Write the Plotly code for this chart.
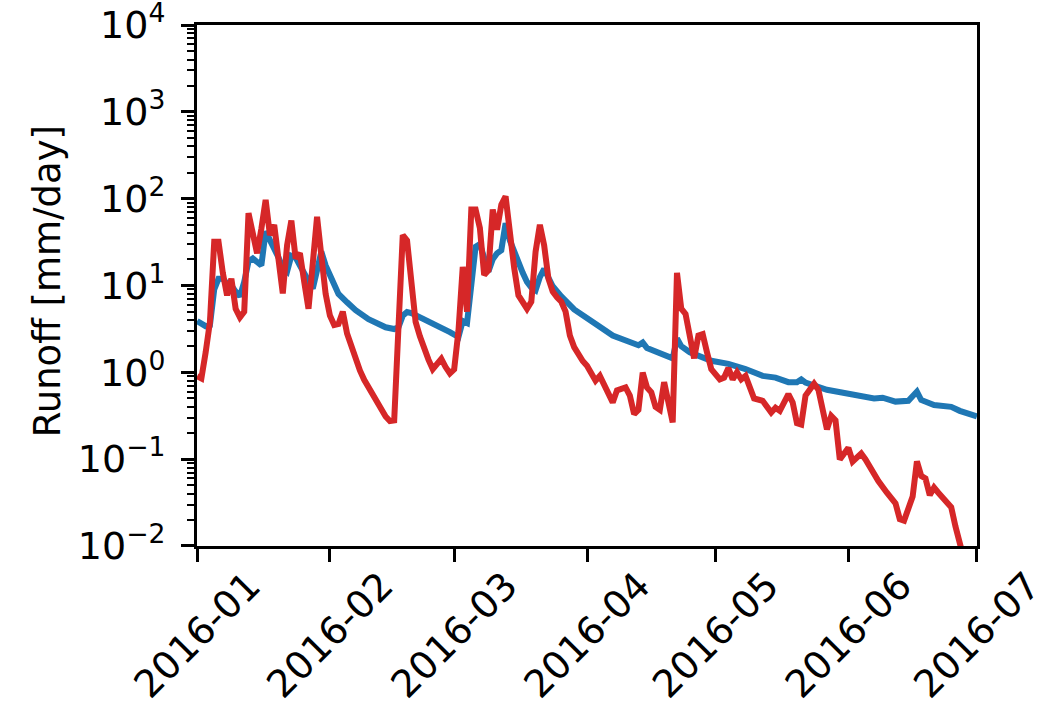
import pandas as pd
import plotly.graph_objects as go

# ---- data (day offset from 2016-01-01, runoff in mm/day) ----
start_date = "2016-01-01"

blue_days = [0, 2, 3, 4, 5, 6, 7, 8, 9, 10, 11, 12, 13, 14, 15, 16, 17, 18, 19, 20,
             21, 22, 23, 24, 25, 26, 27, 28, 29, 30, 31, 32, 33, 35, 37, 40, 42, 44,
             46, 47, 48, 49, 50, 53, 57, 59, 61, 62, 63, 64, 65, 66, 67, 68, 69, 70,
             71, 72, 73, 74, 75, 76, 77, 78, 79, 80, 81, 82, 83, 85, 88, 92, 97, 103,
             104, 105, 110, 111, 112, 113, 115, 120, 124, 128, 132, 135, 138, 140,
             141, 142, 147, 154, 158, 160, 163, 166, 168, 169, 172, 176, 178, 182]
blue_vals = [3.9, 3.4, 3.5, 9.0, 12.0, 12.0, 10.5, 10.0, 8.5, 7.5, 11.0, 19.0, 20.5,
             18.5, 17.0, 42.0, 34.0, 28.0, 21.0, 16.0, 14.5, 22.0, 21.0, 17.0, 14.0,
             11.5, 9.2, 15.0, 24.5, 17.0, 13.0, 10.0, 8.0, 6.4, 5.2, 4.1, 3.6, 3.3,
             3.15, 3.3, 4.5, 4.95, 4.8, 4.1, 3.35, 2.9, 2.55, 3.9, 3.7, 10.0, 28.0,
             30.0, 20.0, 14.5, 20.0, 23.5, 25.5, 52.0, 33.0, 24.0, 19.0, 14.0, 11.0,
             9.5, 8.8, 12.5, 15.5, 12.0, 9.8, 7.5, 5.3, 3.9, 2.65, 2.05, 2.2, 1.9,
             1.5, 1.45, 2.45, 2.0, 1.7, 1.36, 1.25, 1.09, 0.91, 0.87, 0.77, 0.77,
             0.83, 0.76, 0.63, 0.54, 0.5, 0.51, 0.46, 0.47, 0.6, 0.48, 0.42, 0.4,
             0.36, 0.31]

red_days = [0, 1, 2, 3, 4, 5, 6, 7, 8, 9, 10, 11, 12, 13, 14, 15, 16, 17, 18, 19,
            20, 21, 22, 23, 24, 25, 26, 27, 28, 29, 30, 31, 32, 33, 34, 35, 37, 38,
            39, 40, 41, 42, 43, 44, 45, 46, 47, 48, 49, 50, 51, 52, 53, 54, 55, 56,
            57, 58, 59, 60, 61, 62, 63, 64, 65, 66, 67, 68, 69, 70, 71, 72, 73, 74,
            75, 76, 77, 78, 79, 80, 81, 82, 83, 84, 85, 86, 87, 88, 89, 90, 91, 92,
            93, 94, 95, 96, 97, 98, 99, 100, 101, 102, 103, 104, 105, 106, 107, 108,
            109, 110, 111, 112, 113, 114, 115, 116, 117, 118, 119, 120, 122, 123,
            124, 125, 126, 127, 128, 130, 132, 134, 135, 136, 138, 139, 140, 141,
            142, 144, 145, 147, 148, 149, 150, 152, 153, 155, 156, 158, 159, 161,
            163, 164, 165, 167, 168, 169, 170, 171, 172, 173, 174, 176, 177, 178, 179]
red_vals = [0.9, 0.85, 1.7, 3.8, 32.0, 32.0, 14.0, 7.7, 12.0, 5.4, 4.3, 5.0, 68.0,
            38.0, 23.5, 45.0, 97.0, 38.0, 50.0, 20.0, 8.1, 29.0, 56.0, 20.5, 23.5,
            11.0, 5.4, 18.0, 62.0, 22.0, 8.0, 4.5, 3.5, 3.6, 5.0, 2.8, 1.4, 1.05,
            0.82, 0.67, 0.55, 0.46, 0.38, 0.31, 0.275, 0.28, 3.3, 38.0, 33.0, 11.0,
            3.8, 2.6, 1.86, 1.4, 1.09, 1.25, 1.43, 1.15, 0.97, 1.08, 3.0, 16.4, 5.0,
            75.0, 75.0, 46.0, 13.2, 15.0, 75.0, 44.0, 85.0, 106.0, 35.0, 16.0, 7.7,
            6.5, 5.4, 6.5, 24.5, 50.0, 29.0, 12.0, 8.5, 7.3, 6.5, 5.0, 2.65, 1.95,
            1.6, 1.35, 1.19, 0.95, 0.8, 0.91, 0.72, 0.6, 0.45, 0.62, 0.65, 0.67,
            0.54, 0.33, 0.37, 0.99, 0.67, 0.59, 0.4, 0.37, 0.77, 0.48, 0.265, 14.0,
            5.4, 4.7, 2.4, 1.45, 2.65, 2.75, 1.7, 1.09, 0.83, 0.87, 1.12, 0.83, 1.0,
            0.83, 0.91, 0.5, 0.47, 0.345, 0.39, 0.36, 0.56, 0.45, 0.26, 0.25, 0.54,
            0.74, 0.63, 0.22, 0.315, 0.28, 0.099, 0.135, 0.094, 0.116, 0.099, 0.064,
            0.056, 0.041, 0.031, 0.0204, 0.0196, 0.037, 0.094, 0.064, 0.06, 0.0385,
            0.047, 0.041, 0.036, 0.028, 0.0167, 0.01, 0.007]

month_ticks = ["2016-01-01", "2016-02-01", "2016-03-01", "2016-04-01",
               "2016-05-01", "2016-06-01", "2016-07-01"]
month_labels = ["2016-01", "2016-02", "2016-03", "2016-04",
                "2016-05", "2016-06", "2016-07"]
y_exponents = [-2, -1, 0, 1, 2, 3, 4]

# ---- build ----
base = pd.Timestamp(start_date)
blue_x = [base + pd.Timedelta(days=d) for d in blue_days]
red_x = [base + pd.Timedelta(days=d) for d in red_days]

font_family = "DejaVu Sans"
fs = 37
tfs = 38

fig = go.Figure()
fig.add_trace(go.Scatter(x=blue_x, y=blue_vals, mode="lines",
                         line=dict(color="#1f77b4", width=6), showlegend=False))
fig.add_trace(go.Scatter(x=red_x, y=red_vals, mode="lines",
                         line=dict(color="#d62728", width=6), showlegend=False))

y_tickvals = [10.0 ** e for e in y_exponents]
y_ticktext = ["10<sup>%s</sup>" % (str(e).replace("-", "\u2212")) for e in y_exponents]
minor_vals = [m * 10.0 ** e for e in y_exponents[:-1] for m in range(2, 10)]

x_range = [pd.Timestamp(month_ticks[0]) - pd.Timedelta(minutes=30),
           pd.Timestamp(month_ticks[-1]) + pd.Timedelta(minutes=30)]

fig.update_layout(
    width=1055, height=708,
    margin=dict(l=197, r=78, t=25, b=162, pad=0),
    paper_bgcolor="white", plot_bgcolor="white",
    font=dict(family=font_family, size=fs, color="black"),
    xaxis=dict(
        type="date", range=x_range, automargin=False,
        tickvals=month_ticks, ticktext=month_labels, tickangle=-45,
        tickfont=dict(size=tfs),
        ticks="outside", ticklen=13, tickwidth=3, tickcolor="black",
        showline=True, linecolor="black", linewidth=3, mirror=True,
        showgrid=False, zeroline=False, ticklabeloverflow="allow",
        ticklabelshift=52, ticklabelstandoff=-14,
    ),
    yaxis=dict(
        type="log", range=[y_exponents[0] - 0.0005, y_exponents[-1] + 0.0005],
        automargin=False, tickfont=dict(size=tfs),
        tickvals=y_tickvals, ticktext=y_ticktext,
        ticks="outside", ticklen=13, tickwidth=3, tickcolor="black",
        showline=True, linecolor="black", linewidth=3, mirror=True,
        showgrid=False, zeroline=False, ticklabelstandoff=8,
        ticklabeloverflow="allow",
        minor=dict(tickvals=minor_vals, ticks="outside", ticklen=7,
                   tickwidth=2, tickcolor="black", showgrid=False),
    ),
    annotations=[dict(
        text="Runoff [mm/day]", xref="paper", yref="paper",
        x=(47 - 197) / 780, y=0.508, xanchor="center", yanchor="middle",
        textangle=-90, showarrow=False, font=dict(family=font_family, size=fs),
    )],
)

fig.write_html("out.html")
